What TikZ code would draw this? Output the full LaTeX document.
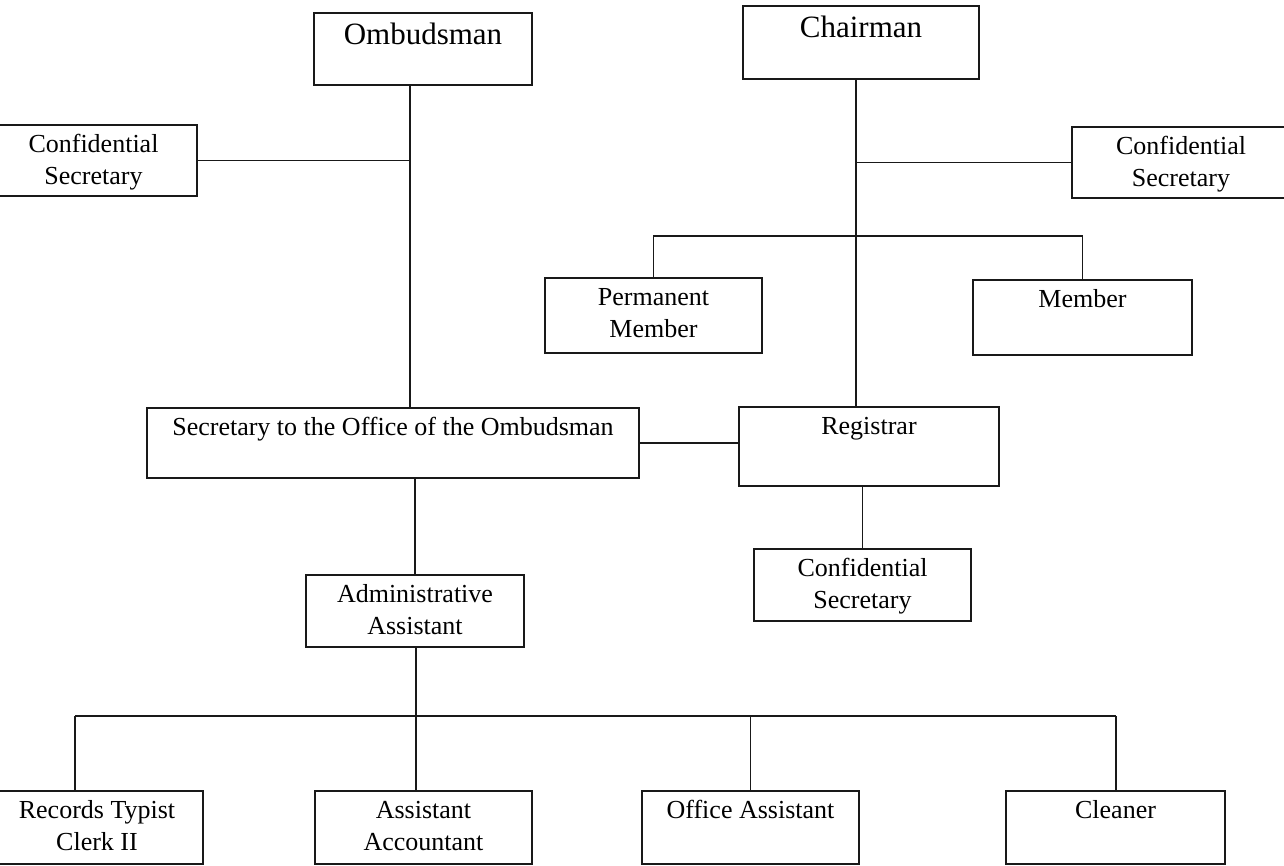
\documentclass[tikz,border=0pt]{standalone}
\usepackage{fontspec}
\setmainfont{Liberation Serif}
\newcommand\bigtxt{\fontsize{31}{37}\selectfont}
\newcommand\normtxt{\fontsize{26}{31.5}\selectfont}
\newcommand\obox[7]{%
  \pgfmathsetmacro\bw{#4-#2}\pgfmathsetmacro\bh{#5-#3}%
  \node[orgbox, anchor=north west] (#1) at (#2,#3)
    {\parbox[c][\bh pt][t]{\bw pt}{#6\centering\vspace*{5.5pt}\strut #7\par}};}
\tikzset{
  orgbox/.style={draw=black!90, line width=1.8pt, inner sep=0pt, outer sep=0pt, font=\normtxt},
  link/.style={draw=black!90, line width=1.5pt}
}
\begin{document}
\begin{tikzpicture}[x=1pt, y=-1pt]
\useasboundingbox[fill=white] (0,0) rectangle (1284,866);
% boxes
\obox{omb}{314}{13}{532}{85}{\bigtxt}{Ombudsman}
\obox{chair}{743}{6}{979}{79}{\bigtxt}{Chairman}
\obox{csl}{-10}{125}{197}{196}{\normtxt}{Confidential\\Secretary}
\obox{csr}{1072}{127}{1290}{198}{\normtxt}{Confidential\\Secretary}
\obox{pm}{545}{278}{762}{353}{\normtxt}{Permanent\\Member}
\obox{mem}{973}{280}{1192}{355}{\normtxt}{Member}
\obox{sec}{147}{408}{639}{478}{\normtxt}{Secretary to the Office of the Ombudsman}
\obox{reg}{739}{407}{999}{486}{\normtxt}{Registrar}
\obox{csc}{754}{549}{971}{621}{\normtxt}{Confidential\\Secretary}
\obox{adm}{306}{575}{524}{647}{\normtxt}{Administrative\\Assistant}
\obox{rtc}{-9}{791}{203}{864}{\normtxt}{Records Typist\\Clerk II}
\obox{aac}{315}{791}{532}{864}{\normtxt}{Assistant\\Accountant}
\obox{off}{642}{791}{859}{864}{\normtxt}{Office Assistant}
\obox{cln}{1006}{791}{1225}{864}{\normtxt}{Cleaner}
% trunk coordinates
\coordinate (tL) at (410,0);
\coordinate (tR) at (856,0);
\coordinate (busM) at (856,236);
\coordinate (bl) at (75,716);
\coordinate (bm) at (416,716);
\coordinate (br) at (1116,716);
% left (Ombudsman) side
\draw[link] (tL |- omb.south) -- (tL |- sec.north);
\draw[link] (csl.east) -- (csl.east -| tL);
% right (Chairman) side
\draw[link] (tR |- chair.south) -- (tR |- reg.north);
\draw[link] (csr.west -| tR) -- (csr.west);
\draw[link] (pm.north) |- (busM) -| (mem.north);
% middle
\draw[link] (sec.east) -- (sec.east -| reg.west);
\draw[link] (csc.north) -- (csc.north |- reg.south);
\draw[link] (adm.north) -- (adm.north |- sec.south);
% bottom
\draw[link] (adm.south -| bm) -- (bm) -- (aac.north -| bm);
\draw[link] (bl) -- (br);
\draw[link] (bl) -- (rtc.north -| bl);
\draw[link] (off.north) -- (off.north |- bl);
\draw[link] (br) -- (cln.north -| br);
\end{tikzpicture}
\end{document}
